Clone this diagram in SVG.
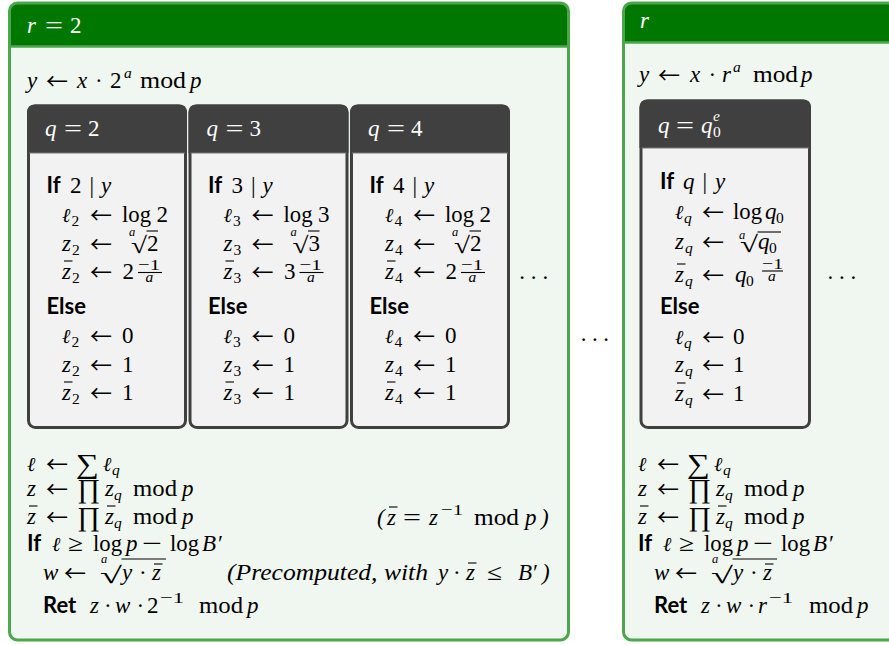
<svg xmlns="http://www.w3.org/2000/svg" width="889" height="645" viewBox="0 0 889 645">
<style>
.m{font-family:"Liberation Serif","DejaVu Serif",serif;font-size:23px;fill:#000}
.i{font-style:italic}
.s{font-size:15.5px}
.ss{font-size:12.5px}
.ell{font-family:"DejaVu Serif","Liberation Serif",serif;font-style:italic;font-size:20px;fill:#000}
.arr{font-family:"Noto Sans CJK SC","DejaVu Sans",sans-serif;font-size:22px;fill:#000}
.b{font-family:Lato,"Liberation Sans",sans-serif;font-weight:700;font-size:22px;fill:#000}
.w{fill:#fff}
.big{font-size:27px}
.bar{stroke:#000;stroke-width:1.1}
.pb{fill:#f0f7f0;stroke:none}
.ph{fill:#007800}
.pf{fill:none;stroke:#4ca74c;stroke-width:3}
.pl{stroke:#4ca74c;stroke-width:2.5}
.qb{fill:#f2f2f2;stroke:#404040;stroke-width:3}
.qh{fill:#404040}
.ql{stroke:#777;stroke-width:1.2}
</style>
<rect width="889" height="645" fill="#fff"/>
<g id="connectors"/>

<!-- LEFT PANEL r=2 -->
<g id="panel-r2">
<rect class="pb" x="9.5" y="3" width="559" height="637" rx="8"/>
<path class="ph" d="M9.5,46 V11 Q9.5,3 17.5,3 H560.5 Q568.5,3 568.5,11 V46 Z"/>
<line class="pl" x1="9.5" y1="46.5" x2="568.5" y2="46.5"/>
<rect class="pf" x="9.5" y="3" width="559" height="637" rx="8"/>
<text class="m w i" x="27" y="33">r</text>
<text class="m w" x="45" y="33" textLength="18" lengthAdjust="spacingAndGlyphs">=</text>
<text class="m w" x="70" y="33">2</text>

<text class="m i" x="27" y="88">y</text>
<text class="arr" x="46" y="89" textLength="22" lengthAdjust="spacingAndGlyphs">←</text>
<text class="m i" x="77" y="88">x</text>
<text class="m" x="95" y="88">·</text>
<text class="m" x="110" y="88">2</text>
<text class="m s i" x="124" y="78">a</text>
<text class="m" x="140" y="88" textLength="46" lengthAdjust="spacingAndGlyphs">mod</text>
<text class="m i" x="190" y="88">p</text>

<text class="m" x="519.3" y="279.3" letter-spacing="5.8">...</text>

<!-- bottom block -->
<text class="ell" x="27" y="471">ℓ</text>
<text class="arr" x="46" y="472" textLength="22" lengthAdjust="spacingAndGlyphs">←</text>
<text class="m big" x="76" y="473" textLength="23" lengthAdjust="spacingAndGlyphs">∑</text>
<text class="ell" x="103" y="471">ℓ</text>
<text class="m s i" x="112" y="475">q</text>

<text class="m i" x="27" y="496">z</text>
<text class="arr" x="46" y="497" textLength="22" lengthAdjust="spacingAndGlyphs">←</text>
<text class="m big" x="77" y="498" textLength="23" lengthAdjust="spacingAndGlyphs">∏</text>
<text class="m i" x="105" y="496">z</text>
<text class="m s i" x="114" y="500">q</text>
<text class="m" x="133" y="496" textLength="44" lengthAdjust="spacingAndGlyphs">mod</text>
<text class="m i" x="182" y="496">p</text>

<text class="m i" x="27" y="524">z</text>
<line class="bar" x1="29" y1="506" x2="37.5" y2="506"/>
<text class="arr" x="46" y="525" textLength="22" lengthAdjust="spacingAndGlyphs">←</text>
<text class="m big" x="77" y="526" textLength="23" lengthAdjust="spacingAndGlyphs">∏</text>
<text class="m i" x="105" y="524">z</text>
<line class="bar" x1="107" y1="506" x2="115.5" y2="506"/>
<text class="m s i" x="114" y="528">q</text>
<text class="m" x="133" y="524" textLength="44" lengthAdjust="spacingAndGlyphs">mod</text>
<text class="m i" x="182" y="524">p</text>

<text class="m i" x="377" y="525">(</text>
<text class="m i" x="387" y="525">z</text>
<line class="bar" x1="389" y1="507" x2="397.5" y2="507"/>
<text class="m" x="403" y="525" textLength="18" lengthAdjust="spacingAndGlyphs">=</text>
<text class="m i" x="429" y="525">z</text>
<text class="m s" x="441" y="515" textLength="22" lengthAdjust="spacingAndGlyphs">−1</text>
<text class="m" x="474" y="525" textLength="45" lengthAdjust="spacingAndGlyphs">mod</text>
<text class="m i" x="525" y="525">p</text>
<text class="m i" x="541" y="525">)</text>

<text class="b" x="27" y="551">If</text>
<text class="ell" x="52" y="551">ℓ</text>
<text class="m" x="68" y="551" textLength="15" lengthAdjust="spacingAndGlyphs">≥</text>
<text class="m" x="93" y="551" textLength="29" lengthAdjust="spacingAndGlyphs">log</text>
<text class="m i" x="126" y="551">p</text>
<text class="m" x="142" y="551" textLength="20" lengthAdjust="spacingAndGlyphs">−</text>
<text class="m" x="170" y="551" textLength="29" lengthAdjust="spacingAndGlyphs">log</text>
<text class="m i" x="202" y="551">B</text>
<text class="m" x="218" y="551">′</text>

<text class="m i" x="43" y="580">w</text>
<text class="arr" x="64" y="581" textLength="22" lengthAdjust="spacingAndGlyphs">←</text>
<text class="m ss i" x="101" y="563">a</text>
<text class="m" x="100" y="582.5" font-size="26" textLength="22" lengthAdjust="spacingAndGlyphs">√</text>
<line class="bar" x1="121.5" y1="559" x2="166" y2="559"/>
<text class="m i" x="122" y="580">y</text>
<text class="m" x="139" y="580">·</text>
<text class="m i" x="152" y="580">z</text>
<line class="bar" x1="154" y1="564" x2="162.5" y2="564"/>
<text class="m i" x="227" y="580" textLength="201" lengthAdjust="spacingAndGlyphs">(Precomputed, with</text>
<text class="m i" x="438" y="580">y</text>
<text class="m" x="453" y="580">·</text>
<text class="m i" x="466" y="580">z</text>
<line class="bar" x1="468" y1="563" x2="476.5" y2="563"/>
<text class="m" x="487" y="580" textLength="15" lengthAdjust="spacingAndGlyphs">≤</text>
<text class="m i" x="518" y="580">B</text>
<text class="m" x="533" y="580">′</text>
<text class="m i" x="542" y="580">)</text>

<text class="b" x="43" y="613">Ret</text>
<text class="m i" x="90" y="613">z</text>
<text class="m" x="104" y="613">·</text>
<text class="m i" x="115" y="613">w</text>
<text class="m" x="136.5" y="613">·</text>
<text class="m" x="147" y="613">2</text>
<text class="m s" x="160" y="603" textLength="24" lengthAdjust="spacingAndGlyphs">−1</text>
<text class="m" x="199" y="613" textLength="44" lengthAdjust="spacingAndGlyphs">mod</text>
<text class="m i" x="247" y="613">p</text>
</g>

<!-- q = 2 -->
<g id="box-q2">
<rect class="qb" x="28.5" y="106" width="157" height="321.5" rx="7"/>
<path class="qh" d="M27,153 V112.5 Q27,104.5 35,104.5 H179 Q187,104.5 187,112.5 V153 Z"/>
<line class="ql" x1="29" y1="153" x2="185" y2="153"/>
<text class="m w i" x="45" y="136">q</text>
<text class="m w" x="64" y="136" textLength="18" lengthAdjust="spacingAndGlyphs">=</text>
<text class="m w" x="88" y="136">2</text>
<text class="b" x="46.5" y="193">If</text>
<text class="m" x="70" y="193">2</text>
<text class="m" x="89.5" y="193">|</text>
<text class="m i" x="101" y="193">y</text>
<text class="ell" x="62" y="222">ℓ</text>
<text class="m s" x="71.5" y="226">2</text>
<text class="arr" x="90" y="223" textLength="22" lengthAdjust="spacingAndGlyphs">←</text>
<text class="m" x="122" y="222" textLength="29" lengthAdjust="spacingAndGlyphs">log</text>
<text class="m" x="156.5" y="222">2</text>
<text class="m i" x="62" y="251">z</text>
<text class="m s" x="72" y="255">2</text>
<text class="arr" x="90" y="252" textLength="22" lengthAdjust="spacingAndGlyphs">←</text>
<text class="m ss i" x="129" y="235.5">a</text>
<text class="m" x="131" y="252.5" textLength="16" lengthAdjust="spacingAndGlyphs">√</text>
<line class="bar" x1="146.5" y1="231" x2="158" y2="231"/>
<text class="m" x="147" y="251">2</text>
<text class="m i" x="62" y="279">z</text>
<line class="bar" x1="64" y1="261" x2="72.5" y2="261"/>
<text class="m s" x="72" y="283">2</text>
<text class="arr" x="90" y="280" textLength="22" lengthAdjust="spacingAndGlyphs">←</text>
<text class="m" x="122.5" y="279">2</text>
<text class="m s" x="138" y="270" textLength="22" lengthAdjust="spacingAndGlyphs">−1</text>
<line class="bar" x1="138" y1="272.5" x2="162" y2="272.5"/>
<text class="m s i" x="145.5" y="282">a</text>
<text class="b" x="46.5" y="314">Else</text>
<text class="ell" x="62" y="343">ℓ</text>
<text class="m s" x="71.5" y="347">2</text>
<text class="arr" x="90" y="344" textLength="22" lengthAdjust="spacingAndGlyphs">←</text>
<text class="m" x="122" y="343">0</text>
<text class="m i" x="62" y="372">z</text>
<text class="m s" x="72" y="376">2</text>
<text class="arr" x="90" y="373" textLength="22" lengthAdjust="spacingAndGlyphs">←</text>
<text class="m" x="122" y="372">1</text>
<text class="m i" x="62" y="400">z</text>
<line class="bar" x1="64" y1="382" x2="72.5" y2="382"/>
<text class="m s" x="72" y="404">2</text>
<text class="arr" x="90" y="401" textLength="22" lengthAdjust="spacingAndGlyphs">←</text>
<text class="m" x="122" y="400">1</text>
</g>

<!-- q = 3 -->
<g id="box-q3" transform="translate(161.5 0)">
<rect class="qb" x="28.5" y="106" width="157" height="321.5" rx="7"/>
<path class="qh" d="M27,153 V112.5 Q27,104.5 35,104.5 H179 Q187,104.5 187,112.5 V153 Z"/>
<line class="ql" x1="29" y1="153" x2="185" y2="153"/>
<text class="m w i" x="45" y="136">q</text>
<text class="m w" x="64" y="136" textLength="18" lengthAdjust="spacingAndGlyphs">=</text>
<text class="m w" x="88" y="136">3</text>
<text class="b" x="46.5" y="193">If</text>
<text class="m" x="70" y="193">3</text>
<text class="m" x="89.5" y="193">|</text>
<text class="m i" x="101" y="193">y</text>
<text class="ell" x="62" y="222">ℓ</text>
<text class="m s" x="71.5" y="226">3</text>
<text class="arr" x="90" y="223" textLength="22" lengthAdjust="spacingAndGlyphs">←</text>
<text class="m" x="122" y="222" textLength="29" lengthAdjust="spacingAndGlyphs">log</text>
<text class="m" x="156.5" y="222">3</text>
<text class="m i" x="62" y="251">z</text>
<text class="m s" x="72" y="255">3</text>
<text class="arr" x="90" y="252" textLength="22" lengthAdjust="spacingAndGlyphs">←</text>
<text class="m ss i" x="129" y="235.5">a</text>
<text class="m" x="131" y="252.5" textLength="16" lengthAdjust="spacingAndGlyphs">√</text>
<line class="bar" x1="146.5" y1="231" x2="158" y2="231"/>
<text class="m" x="147" y="251">3</text>
<text class="m i" x="62" y="279">z</text>
<line class="bar" x1="64" y1="261" x2="72.5" y2="261"/>
<text class="m s" x="72" y="283">3</text>
<text class="arr" x="90" y="280" textLength="22" lengthAdjust="spacingAndGlyphs">←</text>
<text class="m" x="122.5" y="279">3</text>
<text class="m s" x="138" y="270" textLength="22" lengthAdjust="spacingAndGlyphs">−1</text>
<line class="bar" x1="138" y1="272.5" x2="162" y2="272.5"/>
<text class="m s i" x="145.5" y="282">a</text>
<text class="b" x="46.5" y="314">Else</text>
<text class="ell" x="62" y="343">ℓ</text>
<text class="m s" x="71.5" y="347">3</text>
<text class="arr" x="90" y="344" textLength="22" lengthAdjust="spacingAndGlyphs">←</text>
<text class="m" x="122" y="343">0</text>
<text class="m i" x="62" y="372">z</text>
<text class="m s" x="72" y="376">3</text>
<text class="arr" x="90" y="373" textLength="22" lengthAdjust="spacingAndGlyphs">←</text>
<text class="m" x="122" y="372">1</text>
<text class="m i" x="62" y="400">z</text>
<line class="bar" x1="64" y1="382" x2="72.5" y2="382"/>
<text class="m s" x="72" y="404">3</text>
<text class="arr" x="90" y="401" textLength="22" lengthAdjust="spacingAndGlyphs">←</text>
<text class="m" x="122" y="400">1</text>
</g>

<!-- q = 4 -->
<g id="box-q4" transform="translate(323 0)">
<rect class="qb" x="28.5" y="106" width="157" height="321.5" rx="7"/>
<path class="qh" d="M27,153 V112.5 Q27,104.5 35,104.5 H179 Q187,104.5 187,112.5 V153 Z"/>
<line class="ql" x1="29" y1="153" x2="185" y2="153"/>
<text class="m w i" x="45" y="136">q</text>
<text class="m w" x="64" y="136" textLength="18" lengthAdjust="spacingAndGlyphs">=</text>
<text class="m w" x="88" y="136">4</text>
<text class="b" x="46.5" y="193">If</text>
<text class="m" x="70" y="193">4</text>
<text class="m" x="89.5" y="193">|</text>
<text class="m i" x="101" y="193">y</text>
<text class="ell" x="62" y="222">ℓ</text>
<text class="m s" x="71.5" y="226">4</text>
<text class="arr" x="90" y="223" textLength="22" lengthAdjust="spacingAndGlyphs">←</text>
<text class="m" x="122" y="222" textLength="29" lengthAdjust="spacingAndGlyphs">log</text>
<text class="m" x="156.5" y="222">2</text>
<text class="m i" x="62" y="251">z</text>
<text class="m s" x="72" y="255">4</text>
<text class="arr" x="90" y="252" textLength="22" lengthAdjust="spacingAndGlyphs">←</text>
<text class="m ss i" x="129" y="235.5">a</text>
<text class="m" x="131" y="252.5" textLength="16" lengthAdjust="spacingAndGlyphs">√</text>
<line class="bar" x1="146.5" y1="231" x2="158" y2="231"/>
<text class="m" x="147" y="251">2</text>
<text class="m i" x="62" y="279">z</text>
<line class="bar" x1="64" y1="261" x2="72.5" y2="261"/>
<text class="m s" x="72" y="283">4</text>
<text class="arr" x="90" y="280" textLength="22" lengthAdjust="spacingAndGlyphs">←</text>
<text class="m" x="122.5" y="279">2</text>
<text class="m s" x="138" y="270" textLength="22" lengthAdjust="spacingAndGlyphs">−1</text>
<line class="bar" x1="138" y1="272.5" x2="162" y2="272.5"/>
<text class="m s i" x="145.5" y="282">a</text>
<text class="b" x="46.5" y="314">Else</text>
<text class="ell" x="62" y="343">ℓ</text>
<text class="m s" x="71.5" y="347">4</text>
<text class="arr" x="90" y="344" textLength="22" lengthAdjust="spacingAndGlyphs">←</text>
<text class="m" x="122" y="343">0</text>
<text class="m i" x="62" y="372">z</text>
<text class="m s" x="72" y="376">4</text>
<text class="arr" x="90" y="373" textLength="22" lengthAdjust="spacingAndGlyphs">←</text>
<text class="m" x="122" y="372">1</text>
<text class="m i" x="62" y="400">z</text>
<line class="bar" x1="64" y1="382" x2="72.5" y2="382"/>
<text class="m s" x="72" y="404">4</text>
<text class="arr" x="90" y="401" textLength="22" lengthAdjust="spacingAndGlyphs">←</text>
<text class="m" x="122" y="400">1</text>
</g>

<text id="dots-between" class="m" x="580.8" y="341.3" letter-spacing="5.5">...</text>

<!-- RIGHT PANEL r -->
<g id="panel-r">
<rect class="pb" x="623.5" y="3" width="300" height="637" rx="8"/>
<path class="ph" d="M623.5,42 V11 Q623.5,3 631.5,3 H923.5 V42 Z"/>
<line class="pl" x1="623.5" y1="42.5" x2="923.5" y2="42.5"/>
<rect class="pf" x="623.5" y="3" width="300" height="637" rx="8"/>
<text class="m w i" x="640" y="28">r</text>

<text class="m i" x="639" y="82">y</text>
<text class="arr" x="658" y="83" textLength="22" lengthAdjust="spacingAndGlyphs">←</text>
<text class="m i" x="690" y="82">x</text>
<text class="m" x="708.5" y="82">·</text>
<text class="m i" x="722" y="82">r</text>
<text class="m s i" x="733" y="72">a</text>
<text class="m" x="753" y="82" textLength="45" lengthAdjust="spacingAndGlyphs">mod</text>
<text class="m i" x="801" y="82">p</text>

<text class="m" x="827.5" y="278.5" letter-spacing="5.8">...</text>

<text class="ell" x="638" y="471">ℓ</text>
<text class="arr" x="657" y="472" textLength="22" lengthAdjust="spacingAndGlyphs">←</text>
<text class="m big" x="687" y="473" textLength="23" lengthAdjust="spacingAndGlyphs">∑</text>
<text class="ell" x="714" y="471">ℓ</text>
<text class="m s i" x="723" y="475">q</text>

<text class="m i" x="638" y="496">z</text>
<text class="arr" x="657" y="497" textLength="22" lengthAdjust="spacingAndGlyphs">←</text>
<text class="m big" x="688" y="498" textLength="23" lengthAdjust="spacingAndGlyphs">∏</text>
<text class="m i" x="716" y="496">z</text>
<text class="m s i" x="725" y="500">q</text>
<text class="m" x="744" y="496" textLength="44" lengthAdjust="spacingAndGlyphs">mod</text>
<text class="m i" x="793" y="496">p</text>

<text class="m i" x="638" y="524">z</text>
<line class="bar" x1="640" y1="506" x2="648.5" y2="506"/>
<text class="arr" x="657" y="525" textLength="22" lengthAdjust="spacingAndGlyphs">←</text>
<text class="m big" x="688" y="526" textLength="23" lengthAdjust="spacingAndGlyphs">∏</text>
<text class="m i" x="716" y="524">z</text>
<line class="bar" x1="718" y1="506" x2="726.5" y2="506"/>
<text class="m s i" x="725" y="528">q</text>
<text class="m" x="744" y="524" textLength="44" lengthAdjust="spacingAndGlyphs">mod</text>
<text class="m i" x="793" y="524">p</text>

<text class="b" x="638" y="551">If</text>
<text class="ell" x="663" y="551">ℓ</text>
<text class="m" x="679" y="551" textLength="15" lengthAdjust="spacingAndGlyphs">≥</text>
<text class="m" x="704" y="551" textLength="29" lengthAdjust="spacingAndGlyphs">log</text>
<text class="m i" x="737" y="551">p</text>
<text class="m" x="753" y="551" textLength="20" lengthAdjust="spacingAndGlyphs">−</text>
<text class="m" x="781" y="551" textLength="29" lengthAdjust="spacingAndGlyphs">log</text>
<text class="m i" x="813" y="551">B</text>
<text class="m" x="829" y="551">′</text>

<text class="m i" x="654" y="580">w</text>
<text class="arr" x="675" y="581" textLength="22" lengthAdjust="spacingAndGlyphs">←</text>
<text class="m ss i" x="712" y="563">a</text>
<text class="m" x="711" y="582.5" font-size="26" textLength="22" lengthAdjust="spacingAndGlyphs">√</text>
<line class="bar" x1="732.5" y1="559" x2="777" y2="559"/>
<text class="m i" x="733" y="580">y</text>
<text class="m" x="750" y="580">·</text>
<text class="m i" x="763" y="580">z</text>
<line class="bar" x1="765" y1="564" x2="773.5" y2="564"/>

<text class="b" x="654" y="613">Ret</text>
<text class="m i" x="701" y="613">z</text>
<text class="m" x="715" y="613">·</text>
<text class="m i" x="726" y="613">w</text>
<text class="m" x="747.5" y="613">·</text>
<text class="m i" x="758" y="613">r</text>
<text class="m s" x="769" y="603" textLength="24" lengthAdjust="spacingAndGlyphs">−1</text>
<text class="m" x="809" y="613" textLength="44" lengthAdjust="spacingAndGlyphs">mod</text>
<text class="m i" x="857" y="613">p</text>
</g>

<!-- q = q0^e -->
<g id="box-q">
<rect class="qb" x="641" y="101" width="168.5" height="326.5" rx="7"/>
<path class="qh" d="M639.5,148 V107.5 Q639.5,99.5 647.5,99.5 H803 Q811,99.5 811,107.5 V148 Z"/>
<line class="ql" x1="641.5" y1="148" x2="809" y2="148"/>
<text class="m w i" x="658" y="133">q</text>
<text class="m w" x="676" y="133" textLength="18" lengthAdjust="spacingAndGlyphs">=</text>
<text class="m w i" x="701" y="133">q</text>
<text class="m w s" x="713" y="137">0</text>
<text class="m w s i" x="713" y="121">e</text>
<text class="b" x="660" y="189">If</text>
<text class="m i" x="683" y="189">q</text>
<text class="m" x="702.5" y="189">|</text>
<text class="m i" x="715" y="189">y</text>
<text class="ell" x="675" y="219">ℓ</text>
<text class="m s i" x="684" y="223">q</text>
<text class="arr" x="702" y="220" textLength="22" lengthAdjust="spacingAndGlyphs">←</text>
<text class="m" x="733" y="219" textLength="29" lengthAdjust="spacingAndGlyphs">log</text>
<text class="m i" x="765" y="219">q</text>
<text class="m s" x="776" y="223">0</text>
<text class="m i" x="675" y="249">z</text>
<text class="m s i" x="685" y="253">q</text>
<text class="arr" x="702" y="250" textLength="22" lengthAdjust="spacingAndGlyphs">←</text>
<text class="m ss i" x="739" y="238.5">a</text>
<text class="m" x="740" y="251.5" textLength="18" lengthAdjust="spacingAndGlyphs">√</text>
<line class="bar" x1="757.5" y1="232" x2="781" y2="232"/>
<text class="m i" x="758" y="249">q</text>
<text class="m s" x="769" y="253">0</text>
<text class="m i" x="675" y="282">z</text>
<line class="bar" x1="677" y1="264" x2="685.5" y2="264"/>
<text class="m s i" x="685" y="286">q</text>
<text class="arr" x="702" y="283" textLength="22" lengthAdjust="spacingAndGlyphs">←</text>
<text class="m i" x="735" y="282">q</text>
<text class="m s" x="746" y="286">0</text>
<text class="m s" x="762" y="268.5" textLength="21" lengthAdjust="spacingAndGlyphs">−1</text>
<line class="bar" x1="762" y1="271" x2="783" y2="271"/>
<text class="m s i" x="768" y="281">a</text>
<text class="b" x="660" y="314">Else</text>
<text class="ell" x="675" y="344">ℓ</text>
<text class="m s i" x="684" y="348">q</text>
<text class="arr" x="702" y="345" textLength="22" lengthAdjust="spacingAndGlyphs">←</text>
<text class="m" x="733" y="344">0</text>
<text class="m i" x="675" y="372">z</text>
<text class="m s i" x="685" y="376">q</text>
<text class="arr" x="702" y="373" textLength="22" lengthAdjust="spacingAndGlyphs">←</text>
<text class="m" x="733" y="372">1</text>
<text class="m i" x="675" y="401">z</text>
<line class="bar" x1="677" y1="383" x2="685.5" y2="383"/>
<text class="m s i" x="685" y="405">q</text>
<text class="arr" x="702" y="402" textLength="22" lengthAdjust="spacingAndGlyphs">←</text>
<text class="m" x="733" y="401">1</text>
</g>
</svg>
